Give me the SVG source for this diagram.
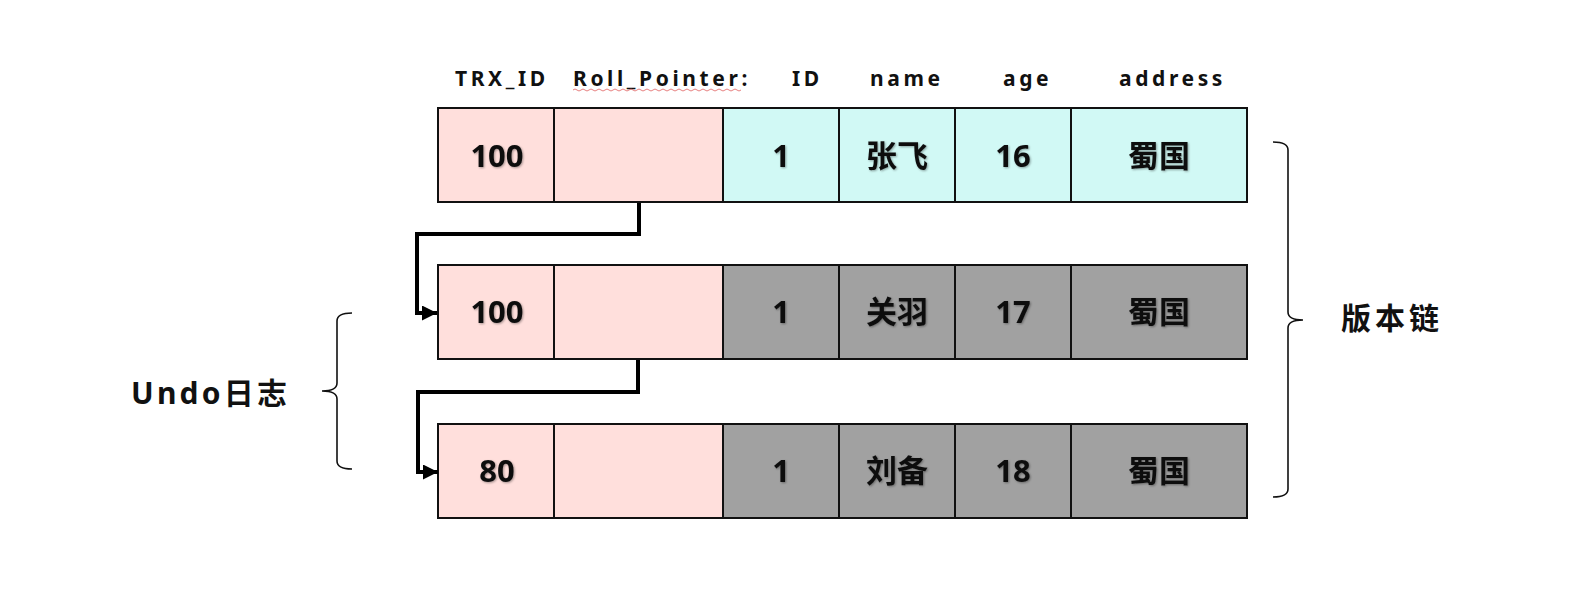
<svg xmlns="http://www.w3.org/2000/svg" width="1570" height="605" viewBox="0 0 1570 605">
<style>
.hdr{font-family:"Noto Sans","Liberation Sans",sans-serif;font-weight:bold;font-size:21px;letter-spacing:3.6px;fill:#111}
.cell{stroke:#111;stroke-width:2}
.pink{fill:#FFDFDC}
.cyan{fill:#D1F9F5}
.gray{fill:#A1A1A1}
.val{font-family:"Noto Sans","Noto Sans CJK SC",sans-serif;font-weight:bold;font-size:31px;fill:#111;text-anchor:middle;dominant-baseline:central;filter:url(#sh)}
.lbl{font-family:"Noto Sans","Noto Sans CJK SC",sans-serif;font-weight:bold;font-size:30px;fill:#111}
.conn{fill:none;stroke:#000;stroke-width:4}
.brace{fill:none;stroke:#111;stroke-width:1.6}
</style>
<defs>
<filter id="sh" x="-20%" y="-20%" width="140%" height="140%"><feDropShadow dx="1" dy="1" stdDeviation="0.8" flood-color="#000" flood-opacity="0.35"/></filter>
<marker id="arr" markerUnits="userSpaceOnUse" markerWidth="15" markerHeight="15" refX="15" refY="7.5" orient="auto"><path d="M0,0 L15,7.5 L0,15 z" fill="#000"/></marker>
</defs>
<g id="headers">
<text class="hdr" x="455" y="86">TRX_ID</text>
<text class="hdr" x="573" y="86">Roll_Pointer:</text>
<path d="M573,90 q2,-2 4,0 t4,0 t4,0 t4,0 t4,0 t4,0 t4,0 t4,0 t4,0 t4,0 t4,0 t4,0 t4,0 t4,0 t4,0 t4,0 t4,0 t4,0 t4,0 t4,0 t4,0 t4,0 t4,0 t4,0 t4,0 t4,0 t4,0 t4,0 t4,0 t4,0 t4,0 t4,0 t4,0 t4,0 t4,0 t4,0 t4,0 t4,0 t4,0 t4,0 t4,0 t4,0" fill="none" stroke="#E06060" stroke-width="0.8"/>
<text class="hdr" x="792" y="86">ID</text>
<text class="hdr" x="870" y="86">name</text>
<text class="hdr" x="1003" y="86">age</text>
<text class="hdr" x="1119" y="86">address</text>
</g>
<g id="row1">
<rect class="cell pink" x="438" y="108" width="116" height="94"/>
<rect class="cell pink" x="554" y="108" width="169" height="94"/>
<rect class="cell cyan" x="723" y="108" width="116" height="94"/>
<rect class="cell cyan" x="839" y="108" width="116" height="94"/>
<rect class="cell cyan" x="955" y="108" width="116" height="94"/>
<rect class="cell cyan" x="1071" y="108" width="176" height="94"/>
<text class="val" x="497" y="155">100</text>
<text class="val" x="781" y="155">1</text>
<text class="val" x="897" y="155">张飞</text>
<text class="val" x="1013" y="155">16</text>
<text class="val" x="1159" y="155">蜀国</text>
</g>
<g id="row2">
<rect class="cell pink" x="438" y="265" width="116" height="94"/>
<rect class="cell pink" x="554" y="265" width="169" height="94"/>
<rect class="cell gray" x="723" y="265" width="116" height="94"/>
<rect class="cell gray" x="839" y="265" width="116" height="94"/>
<rect class="cell gray" x="955" y="265" width="116" height="94"/>
<rect class="cell gray" x="1071" y="265" width="176" height="94"/>
<text class="val" x="497" y="311">100</text>
<text class="val" x="781" y="311">1</text>
<text class="val" x="897" y="311">关羽</text>
<text class="val" x="1013" y="311">17</text>
<text class="val" x="1159" y="311">蜀国</text>
</g>
<g id="row3">
<rect class="cell pink" x="438" y="424" width="116" height="94"/>
<rect class="cell pink" x="554" y="424" width="169" height="94"/>
<rect class="cell gray" x="723" y="424" width="116" height="94"/>
<rect class="cell gray" x="839" y="424" width="116" height="94"/>
<rect class="cell gray" x="955" y="424" width="116" height="94"/>
<rect class="cell gray" x="1071" y="424" width="176" height="94"/>
<text class="val" x="497" y="470">80</text>
<text class="val" x="781" y="470">1</text>
<text class="val" x="897" y="470">刘备</text>
<text class="val" x="1013" y="470">18</text>
<text class="val" x="1159" y="470">蜀国</text>
</g>
<g id="connectors">
<path class="conn" d="M639,203 V234 H417 V313 H437" marker-end="url(#arr)"/>
<path class="conn" d="M638,360 V392 H418 V472 H438" marker-end="url(#arr)"/>
</g>
<g id="undo-brace">
<path class="brace" d="M352,313 Q337,313 337,321 L337,383 Q337,391 322,391 Q337,391 337,399 L337,461 Q337,469 352,469"/>
<text class="lbl" x="131" y="404" letter-spacing="3.2">Undo日志</text>
</g>
<g id="version-brace">
<path class="brace" d="M1273,142 Q1288,142 1288,150 L1288,312 Q1288,320 1303,320 Q1288,320 1288,328 L1288,489 Q1288,497 1273,497"/>
<text class="lbl" x="1341" y="329" letter-spacing="4">版本链</text>
</g>
</svg>
